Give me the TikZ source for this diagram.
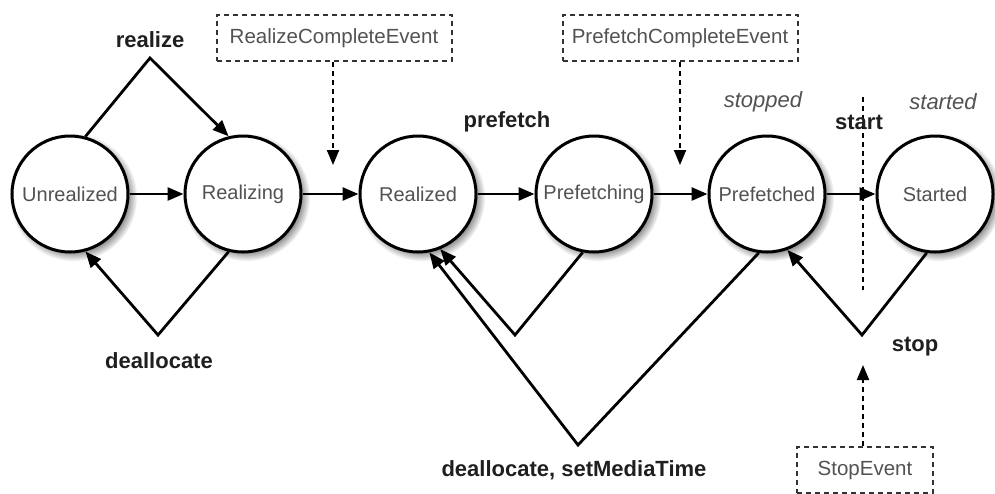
\documentclass[tikz,border=0pt]{standalone}
\usepackage{fontspec}
\setmainfont{Liberation Sans}
\usetikzlibrary{arrows.meta,shadows}
\begin{document}
\begin{tikzpicture}[x=1pt,y=-1pt,
  state/.style={circle,draw=black,line width=3pt,fill=white,minimum size=116pt,inner sep=0pt,
    text=black!68,font=\fontsize{20}{24}\selectfont,
    circular drop shadow={shadow xshift=3pt,shadow yshift=-3pt,fill=black!70,opacity=0.6}},
  event/.style={draw=black!80,dash pattern=on 5pt off 4pt,line width=2pt,minimum height=46pt,
    inner xsep=6pt,text=black!68,font=\fontsize{20.5}{24}\selectfont},
  trans/.style={line width=2.8pt,-{Triangle[length=16pt,width=13pt]}},
  signal/.style={line width=2pt,dash pattern=on 5pt off 4pt,-{Triangle[length=15pt,width=12pt]}},
  guide/.style={line width=2pt,dash pattern=on 5pt off 4pt},
  act/.style={font=\bfseries\fontsize{22}{26}\selectfont,text=black!88},
  mode/.style={font=\itshape\fontsize{22}{26}\selectfont,text=black!68}]
\useasboundingbox (0,0) rectangle (995,493);

% states
\node[state] (U)  at (70,194)  {Unrealized};
\node[state] (RG) at (243,194) {Realizing};
\node[state] (RD) at (418,194) {Realized};
\node[state] (PG) at (594,194) {Prefetching};
\node[state] (PD) at (767,194) {Prefetched};
\node[state] (ST) at (935,194) {Started};

% events
\node[event,minimum width=235pt] (RCE) at (334,38) {RealizeCompleteEvent};
\node[event,minimum width=235pt] (PCE) at (680,38) {PrefetchCompleteEvent};
\node[event,minimum width=136pt] (SE)  at (865,470) {StopEvent};

% bend points
\coordinate (realizeTop) at (150,58);
\coordinate (deallocBot) at (158,335);
\coordinate (loopA) at (515,335);
\coordinate (loopB) at (578,445);
\coordinate (stopBot) at (862,335);
\coordinate (rceTip) at (333,165);
\coordinate (pceTip) at (680,165);
\coordinate (stopTip) at (863,365);
\coordinate (startTop) at (863,97);
\coordinate (startBot) at (863,290);

% forward transitions
\draw[trans] (U) -- (RG);
\draw[trans] (RG) -- (RD);
\draw[trans] (RD) -- (PG);
\draw[trans] (PG) -- (PD);
\draw[trans] (PD) -- (ST);

% bent transitions
\draw[trans] (U.75) -- (realizeTop) -- (RG.104);
\draw[trans] (RG.256) -- (deallocBot) -- (U.285);
\draw[trans] (PG.259) -- (loopA) -- (RD.292);
\draw[trans] (PD.262) -- (loopB) -- (RD.281);
\draw[trans] (ST.262) -- (stopBot) -- (PD.290);

% event signals
\draw[signal] (RCE.south -| rceTip) -- (rceTip);
\draw[signal] (PCE.south -| pceTip) -- (pceTip);
\draw[signal] (SE.north -| stopTip) -- (stopTip);
\draw[guide] (startTop) -- (startBot);

% labels
\node[act] (lRealize) at (150,40) {realize};
\node[act] (lDealloc) at (159,361) {deallocate};
\node[act] (lPrefetch) at (507,122) {prefetch};
\node[act] (lStart) at (859,122) {start};
\node[act] (lStop) at (915,347) {stop};
\node[act] (lDeallocMT) at (574,470) {deallocate, setMediaTime};
\node[mode] (lStopped) at (763,102) {stopped};
\node[mode] (lStarted) at (943,102) {started};
\end{tikzpicture}
\end{document}
